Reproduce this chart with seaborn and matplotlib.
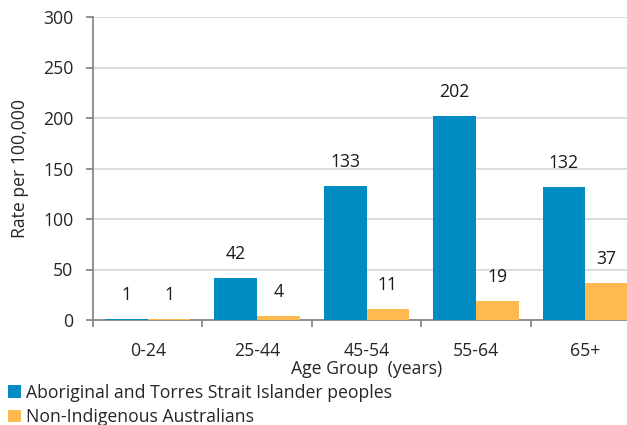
import matplotlib
matplotlib.use("Agg")
import matplotlib.pyplot as plt
import seaborn as sns
import pandas as pd
from matplotlib.patches import Patch

categories = ["0-24", "25-44", "45-54", "55-64", "65+"]
aboriginal = [1.4, 42, 133, 202, 132]
non_indigenous = [1.4, 4, 11, 19, 37]
series_names = ["Aboriginal and Torres Strait Islander peoples", "Non-Indigenous Australians"]
colors = ["#008CC3", "#FFBA4F"]

df = pd.DataFrame({
    "Age": categories * 2,
    "Rate": aboriginal + non_indigenous,
    "Series": [series_names[0]] * len(categories) + [series_names[1]] * len(categories),
})

sns.set_style("white")
plt.rcParams["font.family"] = ["Open Sans", "DejaVu Sans"]
FS = 12.7

fig = plt.figure(figsize=(6.27, 4.25), dpi=100)
ax = fig.add_axes([93 / 627, 105 / 425, (640 - 93) / 627, 303 / 425])

sns.barplot(data=df, x="Age", y="Rate", hue="Series", palette=colors,
            width=0.78, ax=ax, legend=False, saturation=1, edgecolor="none")

ax.set_xlim(-0.5, 4.5)
ax.set_ylim(0, 300)
ax.set_yticks(range(0, 301, 50))
ax.yaxis.grid(True, color="#D9D9D9", linewidth=1.3)
ax.set_axisbelow(True)

for s in ["top", "right"]:
    ax.spines[s].set_visible(False)
for s in ["left", "bottom"]:
    ax.spines[s].set_color("#888888")
    ax.spines[s].set_linewidth(1.3)

ax.tick_params(axis="y", which="major", length=5, width=1.3, color="#888888",
               direction="out", labelsize=FS, pad=9, left=True)
ax.set_xticks(range(len(categories)))
ax.set_xticklabels(categories)
ax.tick_params(axis="x", which="major", length=0, labelsize=FS, pad=16)
ax.set_xticks([i - 0.5 for i in range(len(categories) + 1)], minor=True)
ax.tick_params(axis="x", which="minor", length=5, width=1.3, color="#888888",
               direction="out", bottom=True)

ax.set_xlabel("Age Group  (years)", fontsize=FS, labelpad=0)
ax.set_ylabel("Rate per 100,000", fontsize=FS, labelpad=10)

for container in ax.containers:
    for bar in container:
        bar.set_zorder(3)
        h = bar.get_height()
        ax.annotate(f"{int(round(h))}", (bar.get_x() + bar.get_width() / 2, h),
                    xytext=(0, 17), textcoords="offset points",
                    ha="center", va="center", fontsize=FS, color="#1a1a1a")

handles = [Patch(facecolor=c, edgecolor="none") for c in colors]
fig.legend(handles, series_names, loc="upper left",
           bbox_to_anchor=(0.012, 41 / 425), frameon=False, fontsize=FS,
           handlelength=0.75, handleheight=0.75, handletextpad=0.3,
           labelspacing=0.35, borderaxespad=0, borderpad=0.0)

fig.savefig("out.png", dpi=100)
